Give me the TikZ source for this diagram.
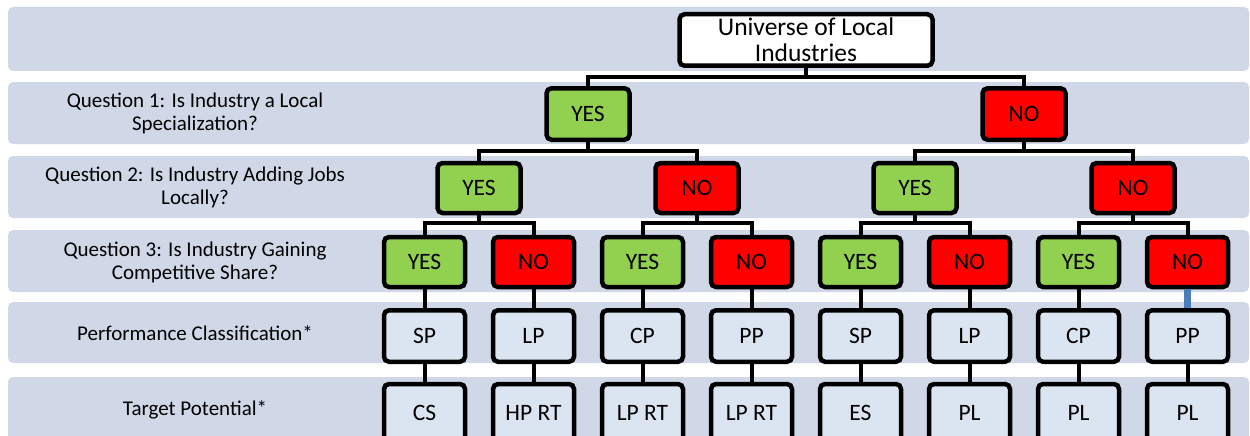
\documentclass[tikz,border=0pt]{standalone}
\usepackage{fontspec}
\setmainfont{Carlito}
\definecolor{bandc}{HTML}{D0D8E8}
\definecolor{boxlight}{HTML}{DBE5F1}
\definecolor{yesgreen}{HTML}{92D050}
\definecolor{nored}{HTML}{FF0000}
\definecolor{linkblue}{HTML}{4A7EBB}
\tikzset{
  band/.style={fill=bandc, rounded corners=5pt},
  lbl/.style={align=center, font=\fontsize{21}{23}\selectfont, text=black},
  box/.style={draw=black, line width=4.5pt, rounded corners=5pt, inner sep=0pt,
    font=\fontsize{23.5}{26}\selectfont, text=black, minimum width=81pt, minimum height=50pt},
  yesbox/.style={box, fill=yesgreen},
  nobox/.style={box, fill=nored},
  resbox/.style={box, fill=boxlight},
  conn/.style={draw=black, line width=4pt, line cap=rect, line join=miter},
  bluelink/.style={draw=linkblue, line width=7pt},
}
\begin{document}
\begin{tikzpicture}[x=1pt,y=-1pt]
\useasboundingbox (0,0) rectangle (1250,436);
\clip (0,0) rectangle (1250,436);
% bands
\fill[band] (8,7) rectangle (1249,71);
\fill[band] (8,82) rectangle (1249,144);
\fill[band] (8,156) rectangle (1249,218);
\fill[band] (8,230) rectangle (1249,292);
\fill[band] (8,302) rectangle (1249,363);
\fill[band] (8,377) rectangle (1249,450);
% labels
\node[lbl] (l1) at (195,113) {Question 1: Is Industry a Local\\Specialization?};
\node[lbl] (l2) at (195,187) {Question 2: Is Industry Adding Jobs\\Locally?};
\node[lbl] (l3) at (195,262) {Question 3: Is Industry Gaining\\Competitive Share?};
\node[lbl] (l4) at (195,333) {Performance Classification*};
\node[lbl] (l5) at (195,410) {Target Potential*};
% root
\node[box, fill=white, minimum width=253pt, minimum height=51.5pt, align=center,
  font=\fontsize{25.5}{26}\selectfont] (root) at (806,40) {Universe of Local\\Industries};
% Q1
\node[yesbox, minimum width=83pt, minimum height=51.5pt] (q1a) at (588,114) {YES};
\node[nobox, minimum width=83pt, minimum height=51.5pt] (q1b) at (1024,114) {NO};
% Q2
\node[yesbox, minimum width=83pt] (q2a) at (479,188) {YES};
\node[nobox, minimum width=83pt] (q2b) at (697,188) {NO};
\node[yesbox, minimum width=83pt] (q2c) at (915,188) {YES};
\node[nobox, minimum width=83pt] (q2d) at (1133,188) {NO};
% Q3
\node[yesbox] (q3a) at (424.5,262) {YES};
\node[nobox]  (q3b) at (533.5,262) {NO};
\node[yesbox] (q3c) at (642.5,262) {YES};
\node[nobox]  (q3d) at (751.5,262) {NO};
\node[yesbox] (q3e) at (860.5,262) {YES};
\node[nobox]  (q3f) at (969.5,262) {NO};
\node[yesbox] (q3g) at (1078.5,262) {YES};
\node[nobox]  (q3h) at (1187.5,262) {NO};
% performance
\node[resbox, minimum height=51.5pt] (pa) at (424.5,336) {SP};
\node[resbox, minimum height=51.5pt] (pb) at (533.5,336) {LP};
\node[resbox, minimum height=51.5pt] (pc) at (642.5,336) {CP};
\node[resbox, minimum height=51.5pt] (pd) at (751.5,336) {PP};
\node[resbox, minimum height=51.5pt] (pe) at (860.5,336) {SP};
\node[resbox, minimum height=51.5pt] (pf) at (969.5,336) {LP};
\node[resbox, minimum height=51.5pt] (pg) at (1078.5,336) {CP};
\node[resbox, minimum height=51.5pt] (ph) at (1187.5,336) {PP};
% target (bottom edge runs off the picture)
\tikzset{tgt/.style={resbox, minimum height=58pt}}
\node[tgt] (ta) at (424.5,413) {CS};
\node[tgt] (tb) at (533.5,413) {HP RT};
\node[tgt] (tc) at (642.5,413) {LP RT};
\node[tgt] (td) at (751.5,413) {LP RT};
\node[tgt] (te) at (860.5,413) {ES};
\node[tgt] (tf) at (969.5,413) {PL};
\node[tgt] (tg) at (1078.5,413) {PL};
\node[tgt] (th) at (1187.5,413) {PL};
% junctions
\coordinate (j0) at (806,77);
\coordinate (j1) at (588,151);
\coordinate (j2) at (1024,151);
\coordinate (j3) at (479,223);
\coordinate (j4) at (697,223);
\coordinate (j5) at (915,223);
\coordinate (j6) at (1133,223);
% tree connectors
\draw[conn] (root.south) -- (j0);
\draw[conn] (q1a.north) |- (j0) -| (q1b.north);
\draw[conn] (q1a.south) -- (j1);
\draw[conn] (q2a.north) |- (j1) -| (q2b.north);
\draw[conn] (q1b.south) -- (j2);
\draw[conn] (q2c.north) |- (j2) -| (q2d.north);
\draw[conn] (q2a.south) -- (j3);
\draw[conn] (q3a.north) |- (j3) -| (q3b.north);
\draw[conn] (q2b.south) -- (j4);
\draw[conn] (q3c.north) |- (j4) -| (q3d.north);
\draw[conn] (q2c.south) -- (j5);
\draw[conn] (q3e.north) |- (j5) -| (q3f.north);
\draw[conn] (q2d.south) -- (j6);
\draw[conn] (q3g.north) |- (j6) -| (q3h.north);
% down connectors
\foreach \a/\b in {q3a/pa,q3b/pb,q3c/pc,q3d/pd,q3e/pe,q3f/pf,q3g/pg}
  \draw[conn] (\a.south) -- (\b.north);
\draw[bluelink] (q3h.south) -- (ph.north);
\foreach \a/\b in {pa/ta,pb/tb,pc/tc,pd/td,pe/te,pf/tf,pg/tg,ph/th}
  \draw[conn] (\a.south) -- (\b.north);
\end{tikzpicture}
\end{document}
